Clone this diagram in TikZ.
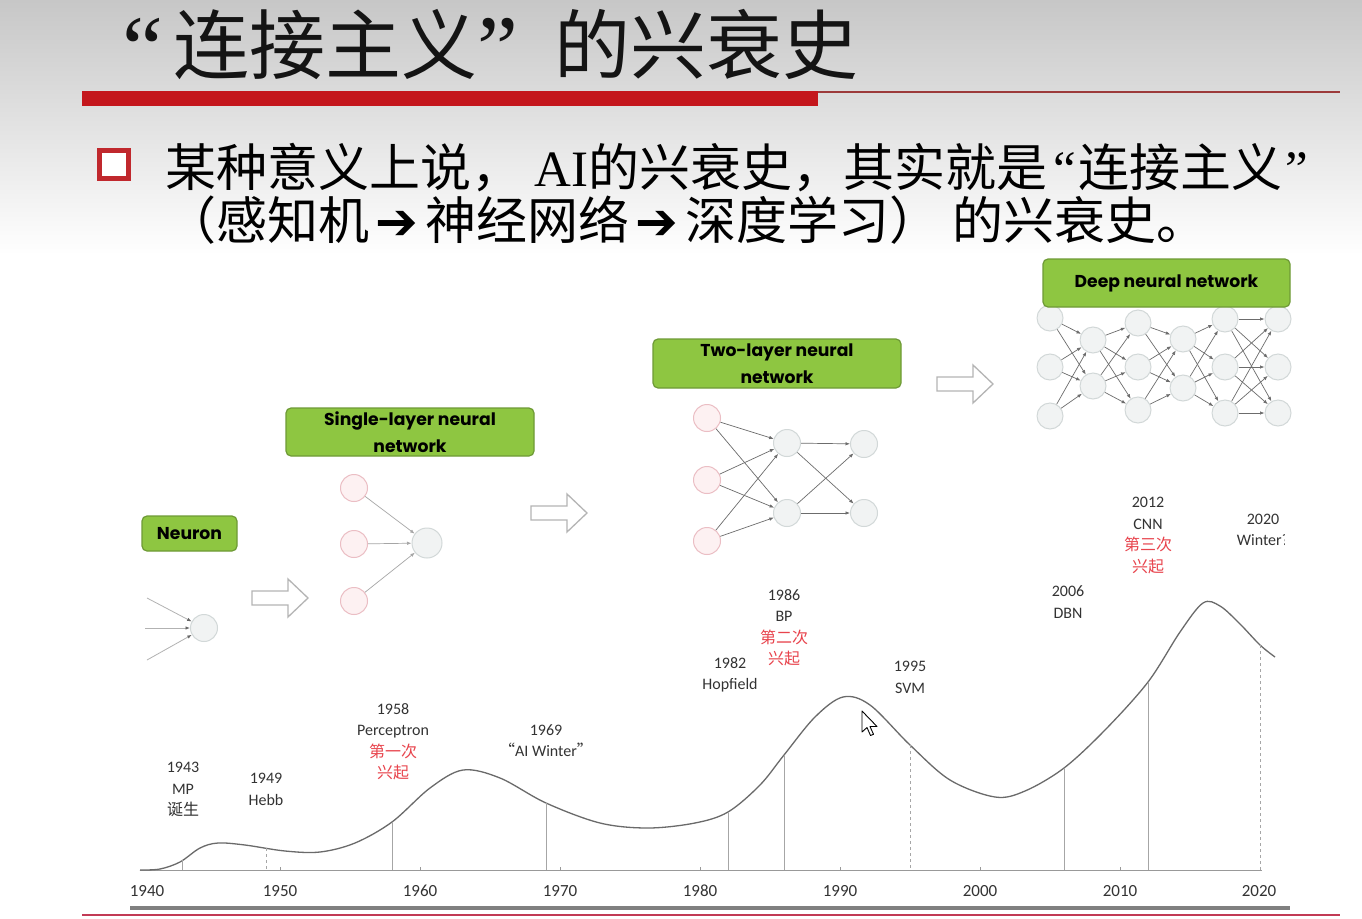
\documentclass[tikz,border=0pt]{standalone}
\usepackage{fontspec}
\setmainfont{Carlito}
\newfontfamily\cjk{Noto Sans CJK SC}
\newfontfamily\boxfont{Poppins}
\newfontfamily\symfont{DejaVu Sans}
\newfontfamily\latinserif{Liberation Serif}
\usetikzlibrary{arrows.meta}

\definecolor{barred}{HTML}{C4161C}
\definecolor{thinred}{HTML}{9C3A3A}
\definecolor{bulletred}{HTML}{C0282D}
\definecolor{boxgreen}{HTML}{8EC641}
\definecolor{boxedge}{HTML}{6E9A36}
\definecolor{pinkfill}{HTML}{FDF1F2}
\definecolor{pinkedge}{HTML}{EBBEC4}
\definecolor{grayfill}{HTML}{F1F3F3}
\definecolor{grayedge}{HTML}{D2D8D8}
\definecolor{edgegray}{HTML}{6C6C6C}
\definecolor{evred}{HTML}{E8434C}
\definecolor{curvegray}{HTML}{6A6A6A}
\definecolor{labelgray}{HTML}{333333}
\definecolor{arrowgray}{HTML}{B4B4B4}
\definecolor{bottomred}{HTML}{C23A55}

\newcommand\rcn[1]{{\color{evred}\cjk #1}}
\newcommand\bigarrow{\makebox[1.1em]{\symfont ➔}}
\newcommand\headquote[1]{\raisebox{-6pt}{\latinserif\fontsize{92}{92}\selectfont #1}}

\tikzset{
  greenbox/.style={draw=boxedge, fill=boxgreen, line width=1.2pt, rounded corners=5pt,
    font=\boxfont\bfseries\fontsize{17.2}{26.5}\selectfont, align=center, inner sep=0pt},
  pinknode/.style={circle, draw=pinkedge, fill=pinkfill, line width=1pt, minimum size=27pt, inner sep=0pt},
  graynode/.style={circle, draw=grayedge, fill=grayfill, line width=1pt, minimum size=27pt, inner sep=0pt},
  netedge/.style={draw=edgegray, line width=0.7pt, -{Latex[length=4.5pt,width=3.5pt]}},
  faintedge/.style={draw=black!30, line width=0.8pt, -{Latex[length=4.5pt,width=3.5pt,color=black!60]}},
  hollowarrow/.pic={\draw[arrowgray, fill=white, line width=1.3pt]
     (0,-7) -- (36,-7) -- (36,-19) -- (56,0) -- (36,19) -- (36,7) -- (0,7) -- cycle;},
  evt/.style={font=\fontsize{16}{21.5}\selectfont, align=center, inner sep=0pt, text=labelgray},
  yearlab/.style={font=\fontsize{17}{17}\selectfont, inner sep=0pt, text=labelgray},
  marker/.style={draw=black!35, line width=0.7pt},
}

\begin{document}
\begin{tikzpicture}[x=1pt, y=-1pt]
\useasboundingbox (0,0) rectangle (1362,918);
\fill[white] (0,0) rectangle (1362,918);
% grey fade behind the heading
\shade[top color=black!22, bottom color=white] (0,0) rectangle (1362,255);

% heading and rules
\node[anchor=base west, inner sep=0pt, font=\cjk\fontsize{76}{76}\selectfont, text=black!92] (title)
  at (122,73) {\headquote{“}\hspace{10pt}连接主义\headquote{”}\hspace{37pt}的兴衰史};
\draw[thinred, line width=1.6pt] (818,92) -- (1340,92);
\fill[barred] (82,91) rectangle (818,106);

% bullet point
\draw[bulletred, line width=5pt, fill=white] (99.5,150.5) rectangle (128.5,178.5);
\node[anchor=base west, inner sep=0pt, font=\cjk\fontsize{51}{51}\selectfont] (line1)
  at (165,186) {某种意义上说，\hspace{12pt}{\latinserif AI}的兴衰史，其实就是\hspace{6pt}{\latinserif “}\hspace{3pt}连接主义\hspace{3pt}{\latinserif ”}};
\node[anchor=base west, inner sep=0pt, font=\cjk\fontsize{51}{51}\selectfont] (line2)
  at (165,239) {（感知机\bigarrow 神经网络\bigarrow 深度学习）\hspace{12pt}的兴衰史。};

% ---------- neuron ----------
\node[graynode] (neu) at (204,628) {};
\coordinate (ni1) at (147,598);
\coordinate (ni2) at (145,628);
\coordinate (ni3) at (147,660);
\foreach \c in {ni1,ni2,ni3} \draw[faintedge] (\c) -- (neu);
\node[greenbox, minimum width=95pt, minimum height=35pt] (bneu) at (189.5,533.5) {Neuron};

\pic at (252,598) {hollowarrow};

% ---------- single layer ----------
\node[pinknode] (s1) at (354,488) {};
\node[pinknode] (s2) at (354,544) {};
\node[pinknode] (s3) at (354,601) {};
\node[graynode, minimum size=30pt] (so) at (427,543) {};
\foreach \a in {s1,s2,s3} \draw[netedge, draw=black!35] (\a) -- (so);
\node[greenbox, minimum width=248pt, minimum height=48pt] (bsingle) at (410,432) {Single-layer neural\\network};

\pic at (531,513) {hollowarrow};

% ---------- two layer ----------
\node[pinknode] (t1) at (707,418) {};
\node[pinknode] (t2) at (707,480) {};
\node[pinknode] (t3) at (707,541) {};
\node[graynode] (h1) at (787,443) {};
\node[graynode] (h2) at (787,513) {};
\node[graynode] (o1) at (864,444) {};
\node[graynode] (o2) at (864,513) {};
\foreach \a in {t1,t2,t3} \foreach \b in {h1,h2} \draw[netedge] (\a) -- (\b);
\foreach \a in {h1,h2} \foreach \b in {o1,o2} \draw[netedge] (\a) -- (\b);
\node[greenbox, minimum width=248pt, minimum height=49pt] (btwo) at (777,363.5) {Two-layer neural\\network};

\pic at (937,384) {hollowarrow};

% ---------- deep network ----------
\foreach \n/\x/\y in {a1/1050/318, a2/1050/367, a3/1050/416,
                      b1/1093/340, b2/1093/386,
                      c1/1138/323, c2/1138/367, c3/1138/410,
                      d1/1183/339, d2/1183/388,
                      e1/1225/319, e2/1225/367, e3/1225/413,
                      f1/1278/319, f2/1278/367, f3/1278/413}
  \node[graynode, minimum size=26pt] (\n) at (\x,\y) {};
\foreach \a in {a1,a2,a3} \foreach \b in {b1,b2} \draw[netedge] (\a) -- (\b);
\foreach \a in {b1,b2} \foreach \b in {c1,c2,c3} \draw[netedge] (\a) -- (\b);
\foreach \a in {c1,c2,c3} \foreach \b in {d1,d2} \draw[netedge] (\a) -- (\b);
\foreach \a in {d1,d2} \foreach \b in {e1,e2,e3} \draw[netedge] (\a) -- (\b);
\foreach \a in {e1,e2,e3} \foreach \b in {f1,f2,f3} \draw[netedge] (\a) -- (\b);
\node[greenbox, minimum width=247pt, minimum height=48pt] (bdeep) at (1166.5,283) {Deep neural network};

% ---------- timeline ----------
\draw[black!40, line width=1pt] (140,870) -- (1262,870);
\foreach \x in {280,420,560,700,840,980,1120} \draw[black!40, line width=0.8pt] (\x,870) -- (\x,867);

\draw[curvegray, line width=1.3pt] plot[smooth, tension=0.55] coordinates {
  (140,870) (160,869) (180,862) (200,848) (218,843) (245,845) (285,851) (320,852)
  (355,843) (392,822) (430,788) (463,770) (500,778) (546,803) (600,823) (648,828)
  (695,823) (728,812) (760,785) (784,755) (815,717) (843,697) (870,705) (910,745)
  (950,780) (995,797) (1025,791) (1064,768) (1105,730) (1148,682) (1180,632)
  (1203,603) (1220,606) (1240,624) (1260,645) (1275,657)};

% event markers
\draw[marker] (182,860) -- (182,870);
\draw[marker, dashed] (266,848) -- (266,870);
\draw[marker] (392,822) -- (392,870);
\draw[marker] (546,803) -- (546,870);
\draw[marker] (728,812) -- (728,870);
\draw[marker] (784,755) -- (784,870);
\draw[marker, dashed] (910,745) -- (910,870);
\draw[marker] (1064,768) -- (1064,870);
\draw[marker] (1148,682) -- (1148,870);
\draw[marker, dashed] (1260,645) -- (1260,870);

% event labels
\node[evt] (e1943) at (183,789.5) {1943\\MP\\{\cjk 诞生}};
\node[evt] (e1949) at (266,789.5) {1949\\Hebb};
\node[evt] (e1958) at (393,741.5) {1958\\Perceptron\\\rcn{第一次}\\\rcn{兴起}};
\node[evt] (e1969) at (546,740.5) {1969\\{\cjk “}AI Winter{\cjk ”}};
\node[evt] (e1982) at (730,675) {1982\\Hopfield};
\node[evt] (e1986) at (784,627.5) {1986\\BP\\\rcn{第二次}\\\rcn{兴起}};
\node[evt] (e1995) at (910,677.5) {1995\\SVM};
\node[evt] (e2006) at (1068,602) {2006\\DBN};
\node[evt] (e2012) at (1148,535.5) {2012\\CNN\\\rcn{第三次}\\\rcn{兴起}};
\begin{scope}
  \clip (1200,490) rectangle (1284,570);
  \node[evt] (e2020) at (1263,530) {2020\\Winter?};
\end{scope}

% year axis labels
\node[yearlab] (y1940) at (147,891) {1940};
\foreach \yr/\x in {1950/280,1960/420,1970/560,1980/700,1990/840,2000/980,2010/1120,2020/1259}
  \node[yearlab] (y\yr) at (\x,891) {\yr};

% pointer
\draw[black, fill=white, line width=0.9pt, line join=round]
  (862,711) -- (862,732) -- (867,727.5) -- (870.5,735.5) -- (873.5,734.3) -- (870,726.5) -- (877,726.5) -- cycle;

% bottom rules
\draw[black!50, line width=4pt] (130,908) -- (1290,908);
\draw[bottomred, line width=1.5pt] (82,915) -- (1340,915);
\end{tikzpicture}
\end{document}
